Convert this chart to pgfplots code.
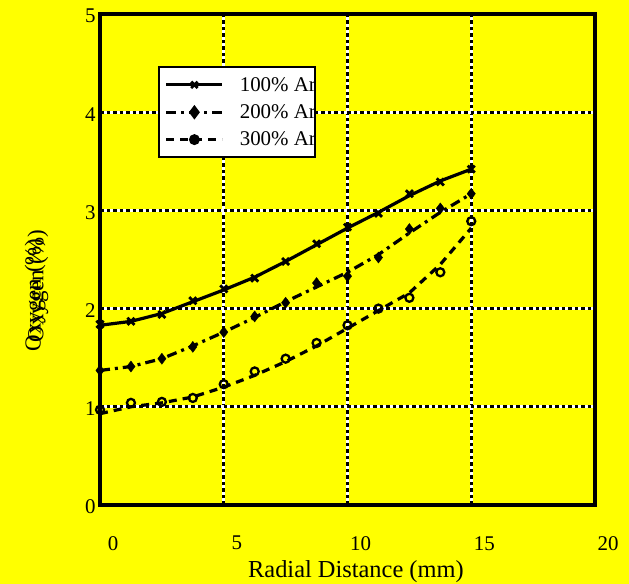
\documentclass[border=0pt]{standalone}
\usepackage{pgfplots}
\pgfplotsset{compat=1.18}
\usepackage{fontspec}
\setmainfont{Liberation Serif}
\definecolor{bgyellow}{RGB}{255,255,0}
\begin{document}
\begin{tikzpicture}[x=1bp,y=1bp]
\fill[bgyellow] (0,0) rectangle (629,584);
\useasboundingbox (0,0) rectangle (629,584);
\begin{axis}[
  at={(100bp,79bp)}, anchor=south west,
  scale only axis, width=495bp, height=491bp,
  xmin=0, xmax=20, ymin=0, ymax=5,
  xtick={0,5,10,15,20}, ytick={0,1,2,3,4,5},
  /pgf/number format/assume math mode=true,
  tick label style={font=\fontsize{21}{24}\selectfont},
  xticklabel style={yshift=-31bp, xshift=13bp, inner sep=0pt},
  yticklabel style={xshift=-1bp, yshift=-2bp},
  major tick length=0pt,
  axis line style={line width=3.5bp},
  grid=major,
  major grid style={white, line width=3bp, postaction={draw=black, line width=3bp, dash pattern=on 3.5bp off 3bp}},
  axis background/.style={fill=bgyellow},
  xlabel={Radial Distance (mm)},
  xlabel style={font=\fontsize{24.5}{26}\selectfont, at={(axis description cs:0.517,-0.136)}, anchor=center, inner sep=0pt},
  ylabel={Oxygen (\%)},
  ylabel style={font=\fontsize{23}{26}\selectfont, at={(axis description cs:-0.131,0.428)}, anchor=center, rotate=0},
  legend style={at={(axis cs:2.34,4.47)}, anchor=north west, fill=white, draw=black, line width=2.2bp,
    font=\fontsize{21}{24}\selectfont, row sep=8bp, inner xsep=6bp, inner ysep=8bp, cells={anchor=west}},
  legend image code/.code={\draw[mark repeat=2,mark phase=2,#1] plot coordinates {(0bp,0bp) (28bp,0bp) (56bp,0bp)};},
]
% 100% Ar
\addplot[black, line width=3.2bp, forget plot] coordinates {
(0,1.83)(1.25,1.87)(2.5,1.95)(3.75,2.07)(5,2.19)(6.25,2.32)(7.5,2.48)(8.75,2.65)(10,2.82)(11.25,2.98)(12.5,3.15)(13.75,3.30)(15,3.42)};
\addplot[black, only marks, mark=x, mark size=5bp, line width=2.8bp, forget plot] coordinates {
(0,1.84)(1.25,1.87)(2.5,1.94)(3.75,2.08)(5,2.20)(6.25,2.31)(7.5,2.48)(8.75,2.66)(10,2.83)(11.25,2.97)(12.5,3.17)(13.75,3.29)(15,3.42)};
% 200% Ar
\addplot[black, line width=3.2bp, dash pattern=on 10bp off 5bp on 3bp off 5bp, forget plot] coordinates {
(0,1.37)(1.25,1.41)(2.5,1.49)(3.75,1.62)(5,1.76)(6.25,1.91)(7.5,2.07)(8.75,2.22)(10,2.37)(11.25,2.55)(12.5,2.77)(13.75,2.98)(15,3.17)};
\addplot[black, only marks, mark=diamond*, mark size=5.5bp, forget plot] coordinates {
(0,1.37)(1.25,1.41)(2.5,1.49)(3.75,1.61)(5,1.76)(6.25,1.92)(7.5,2.06)(8.75,2.26)(10,2.33)(11.25,2.52)(12.5,2.81)(13.75,3.02)(15,3.17)};
% 300% Ar
\addplot[black, line width=3.2bp, dash pattern=on 8bp off 6bp, forget plot] coordinates {
(0,0.93)(1.25,1.00)(2.5,1.04)(3.75,1.10)(5,1.20)(6.25,1.32)(7.5,1.46)(8.75,1.62)(10,1.80)(11.25,1.98)(12.5,2.16)(13.75,2.45)(15,2.82)};
\addplot[black, only marks, mark=o, mark size=4bp, line width=2.3bp, forget plot] coordinates {
(0,0.97)(1.25,1.04)(2.5,1.05)(3.75,1.09)(5,1.23)(6.25,1.36)(7.5,1.49)(8.75,1.65)(10,1.83)(11.25,2.00)(12.5,2.11)(13.75,2.37)(15,2.89)};
\addlegendimage{black, line width=2.8bp, mark=x, mark size=4.5bp, mark options={solid}}
\addlegendentry{\hspace*{14bp}100\% Ar\hspace*{-9bp}}
\addlegendimage{black, line width=2.8bp, dash pattern=on 10bp off 5bp on 3bp off 5bp, mark=diamond*, mark size=5bp, mark options={solid}}
\addlegendentry{\hspace*{14bp}200\% Ar\hspace*{-9bp}}
\addlegendimage{black, line width=2.8bp, dash pattern=on 8bp off 6bp, mark=*, mark size=4bp, mark options={solid}}
\addlegendentry{\hspace*{14bp}300\% Ar\hspace*{-9bp}}
\end{axis}
\node[rotate=90, anchor=center, font=\fontsize{23}{26}\selectfont] at (38,298) {Oxygen (\%)};
\end{tikzpicture}
\end{document}
